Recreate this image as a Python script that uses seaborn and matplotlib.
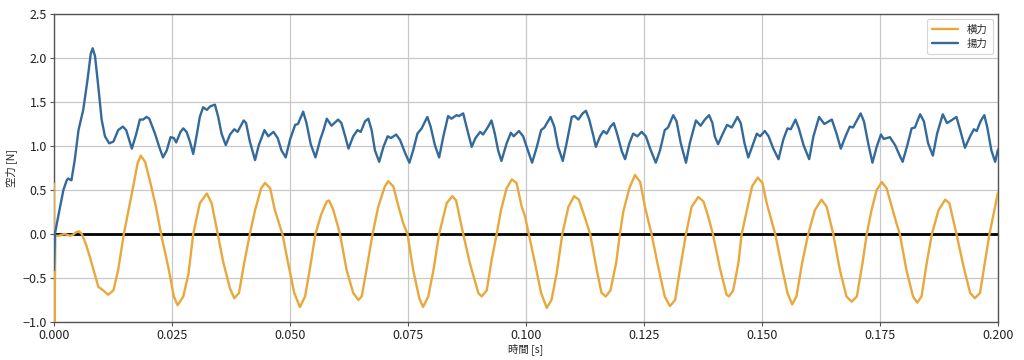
import numpy as np
import pandas as pd
import matplotlib
matplotlib.use("Agg")
import matplotlib.pyplot as plt
import seaborn as sns

# ---- data ----
t_lat = [0.0, 0.00005, 0.0003, 0.0010, 0.0016, 0.0022, 0.0028, 0.0034, 0.0040, 0.0047, 0.0053, 0.0059,
         0.0068, 0.0076, 0.0094, 0.0104, 0.0115, 0.0126, 0.0136, 0.0148, 0.0165, 0.0177, 0.0184, 0.0193,
         0.0203, 0.0216, 0.0228, 0.0242, 0.0254, 0.0262, 0.0274, 0.0285, 0.0295, 0.0309, 0.0324, 0.0334,
         0.0347, 0.0359, 0.0373, 0.0382, 0.0392, 0.0403, 0.0415, 0.0426, 0.0439, 0.0447, 0.0458, 0.0468,
         0.0484, 0.0496, 0.0509, 0.0521, 0.0532, 0.0542, 0.0554, 0.0566, 0.0578, 0.0583, 0.0592, 0.0606,
         0.0620, 0.0634, 0.0645, 0.0652, 0.0662, 0.0675, 0.0687, 0.0701, 0.0708, 0.0719, 0.0730, 0.0740,
         0.0749, 0.0761, 0.0774, 0.0782, 0.0793, 0.0804, 0.0816, 0.0832, 0.0844, 0.0852, 0.0867, 0.0881,
         0.0899, 0.0906, 0.0917, 0.0927, 0.0938, 0.0947, 0.0959, 0.0970, 0.0980, 0.0991, 0.0998, 0.1006,
         0.1019, 0.1032, 0.1044, 0.1054, 0.1065, 0.1077, 0.1090, 0.1102, 0.1112, 0.1124, 0.1136, 0.1150,
         0.1160, 0.1169, 0.1179, 0.1191, 0.1199, 0.1206, 0.1219, 0.1231, 0.1242, 0.1252, 0.1266, 0.1280,
         0.1294, 0.1305, 0.1316, 0.1326, 0.1339, 0.1351, 0.1365, 0.1376, 0.1386, 0.1396, 0.1411, 0.1425,
         0.1430, 0.1439, 0.1450, 0.1457, 0.1468, 0.1479, 0.1491, 0.1501, 0.1510, 0.1528, 0.1542, 0.1554,
         0.1564, 0.1573, 0.1585, 0.1598, 0.1612, 0.1626, 0.1637, 0.1651, 0.1665, 0.1679, 0.1690, 0.1701,
         0.1713, 0.1722, 0.1732, 0.1743, 0.1754, 0.1764, 0.1775, 0.1785, 0.1792, 0.1806, 0.1820, 0.1829,
         0.1838, 0.1849, 0.1860, 0.1874, 0.1888, 0.1897, 0.1912, 0.1927, 0.1941, 0.1951, 0.1962, 0.1972,
         0.1982, 0.1994, 0.2000]
lateral = [0.57, -1.30, -0.02, -0.02, -0.01, 0.00, -0.01, -0.02, -0.01, 0.02, 0.03, 0.00,
           -0.12, -0.26, -0.60, -0.64, -0.69, -0.64, -0.41, 0.00, 0.46, 0.80, 0.89, 0.82,
           0.61, 0.31, -0.03, -0.37, -0.71, -0.81, -0.71, -0.45, 0.00, 0.35, 0.46, 0.35,
           0.00, -0.33, -0.62, -0.73, -0.67, -0.33, 0.00, 0.27, 0.52, 0.58, 0.52, 0.27,
           0.00, -0.33, -0.67, -0.83, -0.71, -0.40, 0.00, 0.22, 0.37, 0.38, 0.27, 0.00,
           -0.41, -0.67, -0.75, -0.71, -0.41, 0.00, 0.31, 0.54, 0.60, 0.54, 0.31, 0.12,
           0.00, -0.41, -0.73, -0.83, -0.71, -0.41, 0.00, 0.35, 0.43, 0.38, 0.00, -0.33,
           -0.67, -0.71, -0.64, -0.30, 0.00, 0.27, 0.52, 0.62, 0.58, 0.31, 0.20, 0.00,
           -0.33, -0.67, -0.84, -0.75, -0.45, 0.00, 0.31, 0.43, 0.39, 0.20, 0.00, -0.41,
           -0.67, -0.71, -0.64, -0.33, 0.00, 0.25, 0.52, 0.67, 0.59, 0.31, 0.00, -0.37,
           -0.71, -0.82, -0.75, -0.41, 0.00, 0.31, 0.42, 0.37, 0.20, 0.00, -0.39, -0.69,
           -0.71, -0.64, -0.33, 0.00, 0.27, 0.54, 0.64, 0.58, 0.35, 0.00, -0.37, -0.67,
           -0.80, -0.71, -0.33, 0.00, 0.27, 0.39, 0.31, 0.00, -0.41, -0.71, -0.77, -0.71,
           -0.33, 0.00, 0.27, 0.50, 0.59, 0.52, 0.31, 0.12, 0.00, -0.41, -0.71, -0.78,
           -0.71, -0.33, 0.00, 0.27, 0.39, 0.35, 0.00, -0.37, -0.67, -0.73, -0.67, -0.33,
           0.00, 0.31, 0.47]

t_lift = [0.0, 0.0002, 0.0009, 0.0020, 0.0027, 0.0030, 0.0037, 0.0044, 0.0052, 0.0062, 0.0071, 0.0078,
          0.0082, 0.0087, 0.0094, 0.0101, 0.0108, 0.0117, 0.0126, 0.0136, 0.0146, 0.0153, 0.0165, 0.0174,
          0.0182, 0.0189, 0.0196, 0.0202, 0.0214, 0.0223, 0.0231, 0.0239, 0.0247, 0.0254, 0.0259, 0.0268,
          0.0274, 0.0281, 0.0288, 0.0295, 0.0302, 0.0309, 0.0316, 0.0324, 0.0331, 0.0341, 0.0348, 0.0355,
          0.0364, 0.0373, 0.0382, 0.0389, 0.0402, 0.0407, 0.0415, 0.0426, 0.0434, 0.0446, 0.0454, 0.0465,
          0.0474, 0.0482, 0.0491, 0.0500, 0.0511, 0.0517, 0.0528, 0.0535, 0.0544, 0.0554, 0.0564, 0.0571,
          0.0578, 0.0588, 0.0602, 0.0609, 0.0617, 0.0624, 0.0634, 0.0643, 0.0650, 0.0659, 0.0666, 0.0673,
          0.0680, 0.0689, 0.0698, 0.0707, 0.0714, 0.0725, 0.0733, 0.0744, 0.0753, 0.0761, 0.0770, 0.0779,
          0.0791, 0.0798, 0.0807, 0.0816, 0.0825, 0.0835, 0.0842, 0.0853, 0.0858, 0.0867, 0.0874, 0.0885,
          0.0893, 0.0903, 0.0909, 0.0920, 0.0927, 0.0934, 0.0941, 0.0948, 0.0959, 0.0968, 0.0974, 0.0985,
          0.0994, 0.1004, 0.1013, 0.1023, 0.1032, 0.1039, 0.1052, 0.1060, 0.1068, 0.1078, 0.1086, 0.1097,
          0.1103, 0.1111, 0.1120, 0.1127, 0.1134, 0.1143, 0.1148, 0.1157, 0.1164, 0.1171, 0.1179, 0.1186,
          0.1193, 0.1203, 0.1210, 0.1219, 0.1227, 0.1236, 0.1245, 0.1254, 0.1263, 0.1275, 0.1284, 0.1294,
          0.1301, 0.1312, 0.1319, 0.1328, 0.1339, 0.1347, 0.1360, 0.1370, 0.1379, 0.1388, 0.1395, 0.1400,
          0.1407, 0.1417, 0.1426, 0.1436, 0.1448, 0.1455, 0.1463, 0.1471, 0.1479, 0.1489, 0.1496, 0.1506,
          0.1514, 0.1524, 0.1535, 0.1545, 0.1554, 0.1561, 0.1571, 0.1578, 0.1588, 0.1600, 0.1609, 0.1621,
          0.1632, 0.1648, 0.1658, 0.1667, 0.1677, 0.1686, 0.1693, 0.1702, 0.1709, 0.1716, 0.1725, 0.1734,
          0.1743, 0.1752, 0.1758, 0.1771, 0.1782, 0.1791, 0.1798, 0.1808, 0.1817, 0.1824, 0.1835, 0.1843,
          0.1852, 0.1862, 0.1871, 0.1883, 0.1892, 0.1901, 0.1912, 0.1920, 0.1930, 0.1941, 0.1949, 0.1955,
          0.1963, 0.1971, 0.1977, 0.1986, 0.1994, 0.2000]
lift = [-0.41, 0.00, 0.20, 0.50, 0.61, 0.63, 0.61, 0.84, 1.18, 1.41, 1.75, 2.05,
        2.11, 2.02, 1.67, 1.30, 1.11, 1.03, 1.05, 1.18, 1.22, 1.18, 0.97, 1.13,
        1.30, 1.30, 1.33, 1.31, 1.14, 0.99, 0.87, 0.95, 1.10, 1.09, 1.04, 1.16,
        1.20, 1.16, 1.05, 0.91, 1.11, 1.33, 1.44, 1.41, 1.45, 1.47, 1.33, 1.14,
        1.01, 1.13, 1.19, 1.16, 1.29, 1.26, 1.05, 0.84, 1.01, 1.18, 1.11, 1.16,
        1.09, 0.95, 0.87, 1.07, 1.24, 1.25, 1.39, 1.26, 1.02, 0.87, 1.07, 1.18,
        1.31, 1.23, 1.30, 1.26, 1.11, 0.97, 1.11, 1.18, 1.16, 1.28, 1.31, 1.18,
        0.95, 0.82, 0.99, 1.11, 1.09, 1.13, 1.07, 0.92, 0.81, 0.95, 1.14, 1.20,
        1.33, 1.22, 1.01, 0.87, 1.11, 1.34, 1.31, 1.35, 1.34, 1.37, 1.22, 0.99,
        1.09, 1.16, 1.13, 1.22, 1.29, 1.14, 0.95, 0.83, 1.03, 1.15, 1.11, 1.17,
        1.11, 0.95, 0.81, 0.99, 1.18, 1.21, 1.33, 1.22, 0.99, 0.83, 1.03, 1.33,
        1.34, 1.30, 1.37, 1.40, 1.30, 1.11, 0.99, 1.11, 1.17, 1.14, 1.22, 1.26,
        1.14, 0.94, 0.85, 1.03, 1.14, 1.11, 1.16, 1.11, 0.97, 0.81, 0.95, 1.18,
        1.21, 1.35, 1.28, 1.03, 0.81, 1.03, 1.29, 1.23, 1.30, 1.35, 1.26, 1.11,
        1.02, 1.14, 1.24, 1.21, 1.33, 1.26, 1.03, 0.87, 0.99, 1.14, 1.11, 1.17,
        1.11, 0.97, 0.85, 1.07, 1.20, 1.19, 1.30, 1.20, 1.01, 0.85, 1.11, 1.33,
        1.25, 1.30, 1.14, 0.97, 1.11, 1.22, 1.21, 1.30, 1.37, 1.28, 1.03, 0.81,
        0.99, 1.13, 1.08, 1.10, 1.01, 0.90, 0.82, 1.01, 1.20, 1.21, 1.36, 1.28,
        1.03, 0.89, 1.14, 1.36, 1.26, 1.29, 1.33, 1.18, 0.98, 1.11, 1.19, 1.17,
        1.28, 1.35, 1.22, 0.95, 0.82, 0.96]

series_names = ["横力", "揚力"]
x_ticks = [0.000, 0.025, 0.050, 0.075, 0.100, 0.125, 0.150, 0.175, 0.200]
y_ticks = [-1.0, -0.5, 0.0, 0.5, 1.0, 1.5, 2.0, 2.5]

# ---- styling ----
sns.set_theme(style="whitegrid")
plt.rcParams['font.family'] = ['Noto Sans CJK JP', 'DejaVu Sans']
plt.rcParams['axes.unicode_minus'] = False

fig = plt.figure(figsize=(10.24, 3.6), dpi=100)
ax = fig.add_axes([0.0527, 0.1056, 0.9219, 0.8556])

df_lat = pd.DataFrame({"t": t_lat, "v": lateral})
df_lift = pd.DataFrame({"t": t_lift, "v": lift})

sns.lineplot(data=df_lat, x="t", y="v", ax=ax, color="#e8a83c", lw=1.7,
             label=series_names[0], sort=False, estimator=None, zorder=3)
sns.lineplot(data=df_lift, x="t", y="v", ax=ax, color="#33699b", lw=1.7,
             label=series_names[1], sort=False, estimator=None, zorder=3)
for ln in ax.get_lines():
    ln.set_solid_joinstyle("round")
    ln.set_solid_capstyle("round")
ax.axhline(0, color="black", lw=2, zorder=2)

ax.set_xlim(0, 0.2)
ax.set_ylim(-1.0, 2.5)
ax.set_xticks(x_ticks)
ax.set_yticks(y_ticks)
ax.set_xticklabels([f"{v:.3f}" for v in x_ticks], fontsize=9)
ax.set_yticklabels([f"{v:.1f}".replace("-", "−") for v in y_ticks], fontsize=9)
ax.set_xlabel("時間 [s]", fontsize=7.5, labelpad=1)
ax.set_ylabel("空力 [N]", fontsize=7.5, labelpad=4)

ax.grid(True, color="#c8c8c8", lw=0.9)
for s in ax.spines.values():
    s.set_color("#555555")
    s.set_linewidth(1.0)
ax.tick_params(axis="both", which="major", direction="out", length=3, width=0.8,
               color="#555555", pad=2, labelcolor="#222222", bottom=True, left=True)

leg = ax.legend(loc="upper right", fontsize=7.5, frameon=True, handlelength=2.5,
                borderpad=0.5, labelspacing=0.4)
leg.get_frame().set_edgecolor("#cccccc")
leg.get_frame().set_linewidth(0.8)

fig.savefig("out.png", dpi=100)
